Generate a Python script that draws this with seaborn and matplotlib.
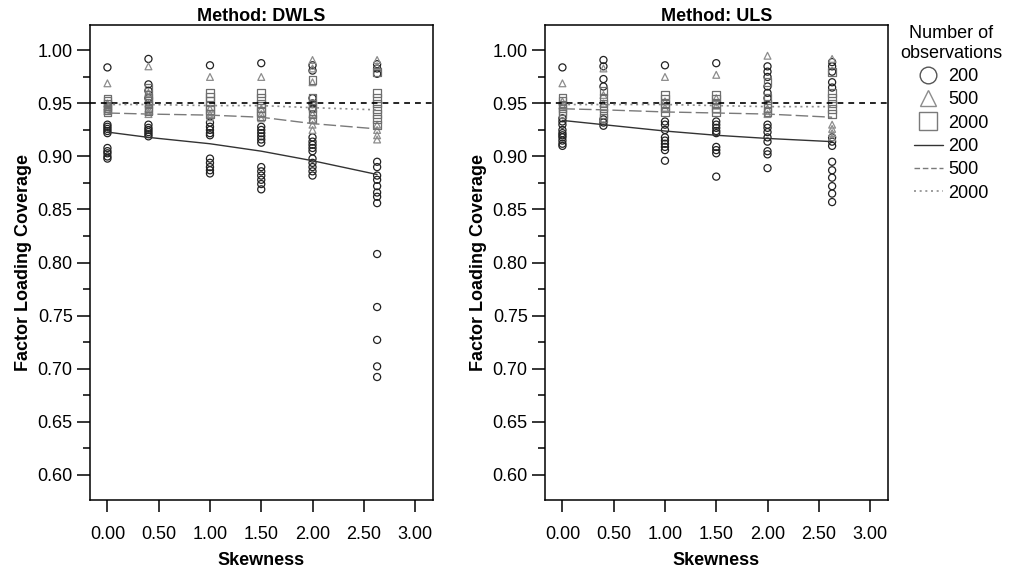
import numpy
import pandas
import seaborn as sns
from matplotlib import pyplot as plt
from matplotlib.lines import Line2D
from matplotlib.ticker import MultipleLocator

# skewness levels (x positions of the point columns)
skew_levels = [0.0, 0.4, 1.0, 1.5, 2.0, 2.63]
n_labels = ['200', '500', '2000']

# coverage values, one inner list per skewness level
dwls_n200 = [
    [0.984, 0.930, 0.928, 0.926, 0.924, 0.922, 0.908, 0.905, 0.903, 0.900, 0.898],
    [0.992, 0.968, 0.962, 0.955, 0.930, 0.927, 0.925, 0.923, 0.921, 0.919],
    [0.986, 0.932, 0.928, 0.925, 0.922, 0.920, 0.898, 0.894, 0.890, 0.887, 0.884],
    [0.988, 0.928, 0.925, 0.922, 0.919, 0.916, 0.913, 0.890, 0.886, 0.882, 0.878, 0.874, 0.869],
    [0.986, 0.981, 0.955, 0.950, 0.945, 0.918, 0.914, 0.911, 0.908, 0.905, 0.898, 0.894, 0.890, 0.886, 0.882],
    [0.987, 0.983, 0.978, 0.895, 0.890, 0.882, 0.878, 0.872, 0.866, 0.862, 0.856, 0.808, 0.758, 0.727, 0.702, 0.692],
]
dwls_n500 = [
    [0.969, 0.950, 0.947, 0.945, 0.943],
    [0.985, 0.960, 0.950, 0.945, 0.942, 0.940],
    [0.975, 0.945, 0.940, 0.937],
    [0.975, 0.945, 0.940, 0.936],
    [0.991, 0.983, 0.970, 0.940, 0.935, 0.930, 0.925],
    [0.991, 0.985, 0.930, 0.925, 0.920, 0.916],
]
dwls_n2000 = [
    [0.954, 0.952, 0.950, 0.948, 0.946, 0.944, 0.942],
    [0.965, 0.958, 0.955, 0.952, 0.949, 0.946, 0.943],
    [0.960, 0.956, 0.952, 0.948, 0.944, 0.940],
    [0.960, 0.955, 0.950, 0.946, 0.942, 0.938],
    [0.972, 0.955, 0.950, 0.946, 0.940, 0.935],
    [0.980, 0.960, 0.955, 0.950, 0.945, 0.940, 0.935, 0.930],
]
uls_n200 = [
    [0.984, 0.936, 0.933, 0.930, 0.925, 0.922, 0.920, 0.918, 0.915, 0.912, 0.910],
    [0.991, 0.985, 0.973, 0.966, 0.935, 0.932, 0.929],
    [0.986, 0.933, 0.930, 0.925, 0.918, 0.915, 0.912, 0.909, 0.906, 0.896],
    [0.988, 0.933, 0.930, 0.927, 0.924, 0.922, 0.909, 0.906, 0.903, 0.881],
    [0.985, 0.980, 0.975, 0.966, 0.960, 0.955, 0.930, 0.927, 0.923, 0.918, 0.914, 0.905, 0.902, 0.889],
    [0.989, 0.985, 0.980, 0.970, 0.965, 0.918, 0.914, 0.910, 0.895, 0.887, 0.880, 0.872, 0.865, 0.857],
]
uls_n500 = [
    [0.969, 0.952, 0.948],
    [0.983, 0.958, 0.950],
    [0.975, 0.952, 0.946],
    [0.977, 0.955, 0.948],
    [0.995, 0.945, 0.940],
    [0.992, 0.930, 0.926, 0.922, 0.918],
]
uls_n2000 = [
    [0.955, 0.952, 0.949, 0.946, 0.943, 0.940],
    [0.962, 0.955, 0.950, 0.946, 0.940, 0.936],
    [0.958, 0.954, 0.950, 0.946, 0.942],
    [0.958, 0.954, 0.950, 0.946, 0.942],
    [0.970, 0.955, 0.950, 0.946, 0.942],
    [0.980, 0.960, 0.955, 0.950, 0.945, 0.940],
]

# fitted lines per sample size
dwls_fit_200 = [0.923, 0.918, 0.912, 0.905, 0.896, 0.883]
dwls_fit_500 = [0.941, 0.940, 0.939, 0.937, 0.931, 0.926]
dwls_fit_2000 = [0.949, 0.949, 0.948, 0.948, 0.946, 0.944]
uls_fit_200 = [0.934, 0.930, 0.924, 0.920, 0.917, 0.914]
uls_fit_500 = [0.945, 0.944, 0.942, 0.941, 0.940, 0.937]
uls_fit_2000 = [0.949, 0.949, 0.949, 0.948, 0.947, 0.947]

nominal_coverage = 0.95


def to_long(groups: dict) -> pandas.DataFrame:
    rows = []
    for n, per_level in groups.items():
        for skew, values in zip(skew_levels, per_level):
            for v in values:
                rows.append({'Skewness': skew, 'N': n, 'Coverage': v})
    return pandas.DataFrame(rows)


panels = [
    ('Method: DWLS',
     to_long({'200': dwls_n200, '500': dwls_n500, '2000': dwls_n2000}),
     {'200': dwls_fit_200, '500': dwls_fit_500, '2000': dwls_fit_2000}),
    ('Method: ULS',
     to_long({'200': uls_n200, '500': uls_n500, '2000': uls_n2000}),
     {'200': uls_fit_200, '500': uls_fit_500, '2000': uls_fit_2000}),
]

marker_style = {'200': ('o', '#222222', 26), '500': ('^', '#8c8c8c', 24), '2000': ('s', '#6e6e6e', 32)}
line_style = {'200': ('-', '#333333', 1.0), '500': ((0, (9, 3)), '#7a7a7a', 1.0), '2000': ((0, (1.2, 2.2)), '#8c8c8c', 1.2)}

sns.set_style('white')
plt.rcParams['font.family'] = ['Liberation Sans', 'DejaVu Sans']
for key in ['text.color', 'axes.labelcolor', 'xtick.color', 'ytick.color']:
    plt.rcParams[key] = 'black'

fig = plt.figure(figsize=(10.19, 5.72), dpi=100)
ax_left = fig.add_axes([90 / 1019, 1 - 500 / 572, 343 / 1019, 475 / 572])
ax_right = fig.add_axes([545 / 1019, 1 - 500 / 572, 343 / 1019, 475 / 572])

for ax, (title, points, fits) in zip([ax_left, ax_right], panels):
    for n in n_labels:
        sub = points[points['N'] == n]
        marker, col, size = marker_style[n]
        sns.scatterplot(data=sub, x='Skewness', y='Coverage', marker=marker, s=size,
                        color=col, facecolors='none', edgecolor=col, linewidth=0.9, ax=ax)
    for n in n_labels:
        ls, col, lw = line_style[n]
        sns.lineplot(x=skew_levels, y=fits[n], color=col, linestyle=ls, linewidth=lw, ax=ax)
    ax.axhline(nominal_coverage, color='black', linestyle=(0, (3.5, 3)), linewidth=1.2, zorder=1)

    ax.set_xlim(-0.17, 3.175)
    ax.set_ylim(0.576, 1.024)
    ax.set_xticks(numpy.arange(0, 3.01, 0.5))
    ax.set_xticklabels([f'{t:.2f}' for t in numpy.arange(0, 3.01, 0.5)])
    ax.yaxis.set_major_locator(MultipleLocator(0.05))
    ax.yaxis.set_minor_locator(MultipleLocator(0.025))
    ax.yaxis.set_major_formatter(plt.FuncFormatter(lambda v, p: f'{v:.2f}'))
    ax.tick_params(axis='x', direction='out', length=8.5, width=1.1, pad=10, labelsize=13, bottom=True)
    ax.tick_params(axis='y', which='major', direction='out', length=9.5, width=1.1, pad=3, labelsize=13, left=True)
    ax.tick_params(axis='y', which='minor', direction='out', length=5, width=1.1, left=True)
    for spine in ax.spines.values():
        spine.set_color('black')
        spine.set_linewidth(1.1)
    ax.set_title(title, fontsize=13, fontweight='bold', pad=3)
    ax.set_xlabel('Skewness', fontsize=13, fontweight='bold', labelpad=7)
    ax.set_ylabel('Factor Loading Coverage', fontsize=13, fontweight='bold', labelpad=4)
    if ax.get_legend() is not None:
        ax.get_legend().remove()

handles = [
    Line2D([], [], linestyle='none', marker='o', markersize=12, markerfacecolor='none', markeredgecolor='#555555', markeredgewidth=1.0),
    Line2D([], [], linestyle='none', marker='^', markersize=12, markerfacecolor='none', markeredgecolor='#8c8c8c', markeredgewidth=1.0),
    Line2D([], [], linestyle='none', marker='s', markersize=13, markerfacecolor='none', markeredgecolor='#7a7a7a', markeredgewidth=1.0),
    Line2D([], [], linestyle='-', color='#333333', linewidth=1.0),
    Line2D([], [], linestyle=(0, (4, 2)), color='#7a7a7a', linewidth=1.0),
    Line2D([], [], linestyle=(0, (1.2, 2.2)), color='#8c8c8c', linewidth=1.2),
]
leg = fig.legend(handles, n_labels + n_labels, title='Number of\nobservations', loc='upper left',
                 bbox_to_anchor=(893 / 1019, 1 - 18 / 572), frameon=False, fontsize=13, title_fontsize=13,
                 handlelength=1.6, handletextpad=0.3, labelspacing=0.35, borderaxespad=0,
                 alignment='center')
leg.get_title().set_multialignment('center')

fig.savefig('out.png', dpi=100)
